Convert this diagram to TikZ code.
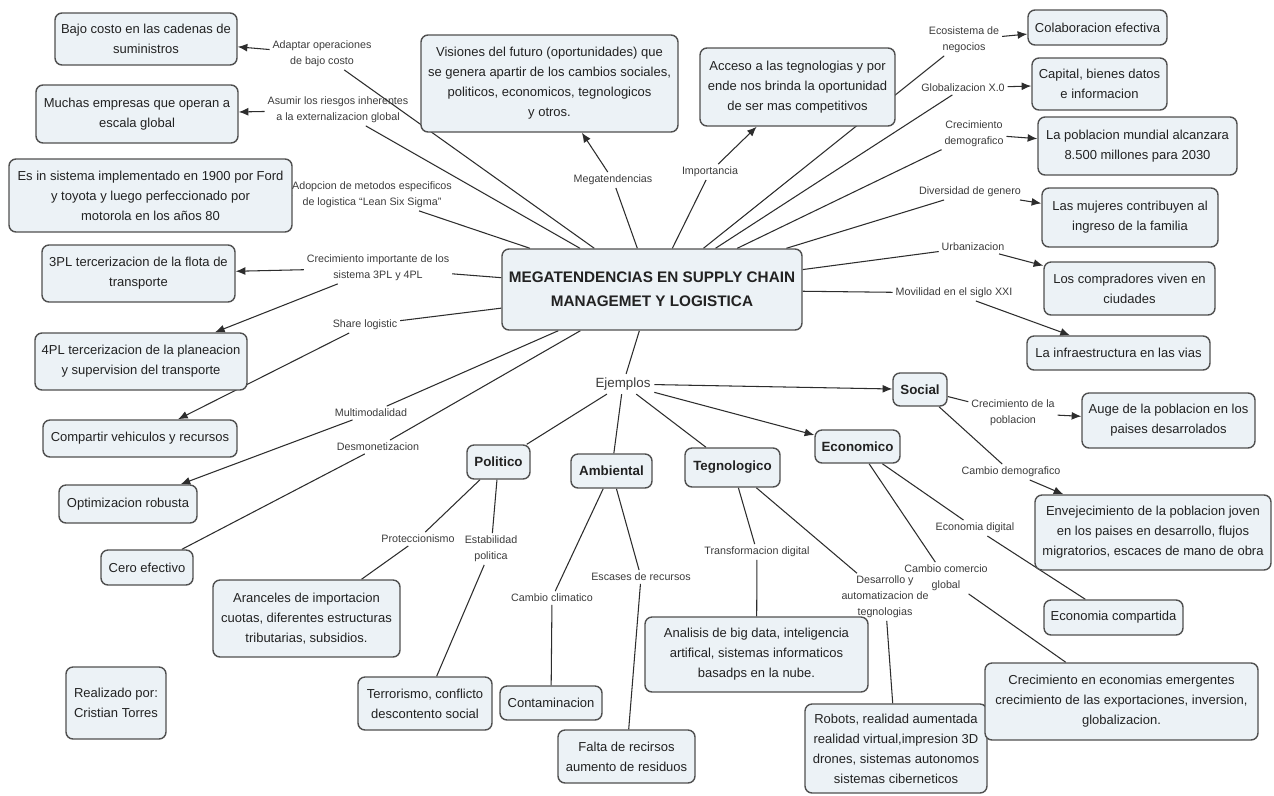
\documentclass[tikz,border=0pt]{standalone}
\usepackage{fontspec}
\setmainfont{Liberation Sans}
\usetikzlibrary{arrows.meta,backgrounds}
\definecolor{boxfill}{RGB}{236,242,246}
\definecolor{boxline}{RGB}{80,80,80}
\definecolor{ink}{RGB}{34,34,34}
\definecolor{linkink}{RGB}{60,60,60}
\definecolor{wire}{RGB}{45,45,45}
\tikzset{
  concept/.style 2 args={draw=boxline, line width=0.8pt, fill=boxfill,
    rounded corners=4pt, align=center, text=ink, inner sep=1pt,
    minimum width=#1*0.02cm, minimum height=#2*0.02cm,
    font=\fontsize{7.4}{11.4}\selectfont},
  titlebox/.style 2 args={concept={#1}{#2},
    font=\bfseries\fontsize{8.7}{13.7}\selectfont},
  groupbox/.style 2 args={concept={#1}{#2},
    font=\bfseries\fontsize{7.6}{9}\selectfont},
  linkphrase/.style={font=\fontsize{6.1}{9}\selectfont, text=linkink,
    align=center, inner sep=1.5pt},
  examples/.style={font=\fontsize{7.6}{9}\selectfont, text=linkink, inner sep=2pt},
  wire/.style={draw=wire, line width=0.6pt},
  arr/.style={wire, -{Latex[length=5.5pt,width=4.5pt]}}
}
\begin{document}
\begin{tikzpicture}[x=0.02cm, y=-0.02cm]
\useasboundingbox (0,0) rectangle (1274,795);

% central concept
\node[titlebox={300}{81}] (C) at (652,289.5) {MEGATENDENCIAS EN SUPPLY CHAIN\\MANAGEMET Y LOGISTICA};

% left branch
\node[concept={182}{52}] (B1) at (146,39) {Bajo costo en las cadenas de\\suministros};
\node[concept={202}{58}] (B2) at (137,114) {Muchas empresas que operan a\\escala global};
\node[concept={283}{73}] (B3) at (150.5,195.5) {Es in sistema implementado en 1900 por Ford\\y toyota y luego perfeccionado por\\motorola en los años 80};
\node[concept={193}{57}] (B4) at (138.5,273.5) {3PL tercerizacion de la flota de\\transporte};
\node[concept={212}{57}] (B5) at (141,361.5) {4PL tercerizacion de la planeacion\\y supervision del transporte};
\node[concept={194}{37}] (B6) at (140,438.5) {Compartir vehiculos y recursos};
\node[concept={138}{38}] (B7) at (128,504) {Optimizacion robusta};
\node[concept={92}{35}] (B8) at (147,567.5) {Cero efectivo};
\node[concept={100}{72}] (B27) at (116,703) {Realizado por:\\Cristian Torres};

\node[linkphrase] (L1) at (322,54) {Adaptar operaciones\\de bajo costo};
\node[linkphrase] (L2) at (338,110) {Asumir los riesgos inherentes\\a la externalizacion global};
\node[linkphrase] (L3) at (372,195) {Adopcion de metodos especificos\\de logistica ``Lean Six Sigma''};
\node[linkphrase] (L4) at (378,268) {Crecimiento importante de los\\sistema 3PL y 4PL};
\node[linkphrase] (L5) at (365,325) {Share logistic};
\node[linkphrase] (L6) at (371,413) {Multimodalidad};
\node[linkphrase] (L7) at (378,447) {Desmonetizacion};

% upper branch
\node[concept={257}{97}] (B9) at (549.5,83.5) {Visiones del futuro (oportunidades) que\\se genera apartir de los cambios sociales,\\politicos, economicos, tegnologicos\\y otros.};
\node[concept={195}{78}] (B10) at (797.5,87) {Acceso a las tegnologias y por\\ende nos brinda la oportunidad\\de ser mas competitivos};
\node[linkphrase] (L8) at (613,180) {Megatendencias};
\node[linkphrase] (L9) at (710,172) {Importancia};

% right branch
\node[concept={139}{35}] (B11) at (1097.5,27.5) {Colaboracion efectiva};
\node[concept={135}{52}] (B12) at (1099.5,84) {Capital, bienes datos\\e informacion};
\node[concept={199}{58}] (B13) at (1137.5,146) {La poblacion mundial alcanzara\\8.500 millones para 2030};
\node[concept={176}{59}] (B14) at (1130,217.5) {Las mujeres contribuyen al\\ingreso de la familia};
\node[concept={171}{53}] (B15) at (1129.5,288.5) {Los compradores viven en\\ciudades};
\node[concept={183}{34}] (B16) at (1118.5,353) {La infraestructura en las vias};

\node[linkphrase] (L10) at (964,40) {Ecosistema de\\negocios};
\node[linkphrase] (L11) at (963,88) {Globalizacion X.0};
\node[linkphrase] (L12) at (974,134) {Crecimiento\\demografico};
\node[linkphrase] (L13) at (970,192) {Diversidad de genero};
\node[linkphrase] (L14) at (973,247) {Urbanizacion};
\node[linkphrase] (L15) at (954,293) {Movilidad en el siglo XXI};

% examples
\node[examples] (Ej) at (623,384) {Ejemplos};
\node[groupbox={63}{34}] (Pol) at (498.5,462) {Politico};
\node[groupbox={81}{34}] (Amb) at (611.5,471) {Ambiental};
\node[groupbox={95}{39}] (Teg) at (732.5,467.5) {Tegnologico};
\node[groupbox={85}{33}] (Eco) at (857.5,446.5) {Economico};
\node[groupbox={54}{33}] (Soc) at (920,389.5) {Social};

\node[concept={187}{77}] (B17) at (306.5,618.5) {Aranceles de importacion\\cuotas, diferentes estructuras\\tributarias, subsidios.};
\node[concept={134}{53}] (B18) at (425,703.5) {Terrorismo, conflicto\\descontento social};
\node[concept={102}{34}] (B19) at (551,703) {Contaminacion};
\node[concept={137}{53}] (B20) at (626.5,756.5) {Falta de recirsos\\aumento de residuos};
\node[concept={223}{75}] (B21) at (756.5,654.5) {Analisis de big data, inteligencia\\artifical, sistemas informaticos\\basadps en la nube.};
\node[concept={182}{89}] (B22) at (896,748.5) {Robots, realidad aumentada\\realidad virtual,impresion 3D\\drones, sistemas autonomos\\sistemas ciberneticos};
\node[concept={139}{35}] (B23) at (1113.5,617.5) {Economia compartida};
\node[concept={273}{77}] (B24) at (1121.5,701.5) {Crecimiento en economias emergentes\\crecimiento de las exportaciones, inversion,\\globalizacion.};
\node[concept={173}{55}] (B25) at (1168.5,420.5) {Auge de la poblacion en los\\paises desarrolados};
\node[concept={236}{75}] (B26) at (1153,532.5) {Envejecimiento de la poblacion joven\\en los paises en desarrollo, flujos\\migratorios, escaces de mano de obra};

\node[linkphrase] (L17) at (418,539) {Proteccionismo};
\node[linkphrase] (L18) at (491,549) {Estabilidad\\politica};
\node[linkphrase] (L19) at (552,598) {Cambio climatico};
\node[linkphrase] (L20) at (641,577) {Escases de recursos};
\node[linkphrase] (L21) at (757,552) {Transformacion digital};
\node[linkphrase] (L22) at (885,597) {Desarrollo y\\automatizacion de\\tegnologias};
\node[linkphrase] (L23) at (975,528) {Economia digital};
\node[linkphrase] (L24) at (946,578) {Cambio comercio\\global};
\node[linkphrase] (L25) at (1013,413) {Crecimiento de la\\poblacion};
\node[linkphrase] (L26) at (1011,472) {Cambio demografico};

\begin{pgfonlayer}{background}
  \fill[white] (0,0) rectangle (1274,795);
  % left branch
  \draw[wire] (C) -- (L1);  \draw[arr] (L1) -- (B1);
  \draw[wire] (C) -- (L2);  \draw[arr] (L2) -- (B2);
  \draw[wire] (C) -- (L3);  \draw[arr] (L3) -- (B3);
  \draw[wire] (C) -- (L4);  \draw[arr] (L4) -- (B4);  \draw[arr] (L4) -- (B5);
  \draw[wire] (C) -- (L5);  \draw[arr] (L5) -- (B6);
  \draw[wire] (C) -- (L6);  \draw[arr] (L6) -- (B7);
  \draw[wire] (C) -- (L7);  \draw[wire] (L7) -- (B8);
  % upper branch
  \draw[wire] (C) -- (L8);  \draw[arr] (L8) -- (B9);
  \draw[wire] (C) -- (L9);  \draw[arr] (L9) -- (B10);
  % right branch
  \draw[wire] (C) -- (L10); \draw[arr] (L10) -- (B11);
  \draw[wire] (C) -- (L11); \draw[arr] (L11) -- (B12);
  \draw[wire] (C) -- (L12); \draw[arr] (L12) -- (B13);
  \draw[wire] (C) -- (L13); \draw[arr] (L13) -- (B14);
  \draw[wire] (C) -- (L14); \draw[arr] (L14) -- (B15);
  \draw[wire] (C) -- (L15); \draw[arr] (L15) -- (B16);
  % examples
  \draw[wire] (C) -- (Ej);
  \draw[arr] (Ej) -- (Soc);
  \draw[arr] (Ej) -- (Eco);
  \draw[wire] (Ej) -- (Pol);
  \draw[wire] (Ej) -- (Amb);
  \draw[wire] (Ej) -- (Teg);
  \draw[wire] (Pol) -- (L17); \draw[wire] (L17) -- (B17);
  \draw[wire] (Pol) -- (L18); \draw[wire] (L18) -- (B18);
  \draw[wire] (Amb) -- (L19); \draw[wire] (L19) -- (B19);
  \draw[wire] (Amb) -- (L20); \draw[wire] (L20) -- (B20);
  \draw[wire] (Teg) -- (L21); \draw[wire] (L21) -- (B21);
  \draw[wire] (Teg) -- (L22); \draw[wire] (L22) -- (B22);
  \draw[wire] (Eco) -- (L23); \draw[wire] (L23) -- (B23);
  \draw[wire] (Eco) -- (L24); \draw[wire] (L24) -- (B24);
  \draw[wire] (Soc) -- (L25); \draw[arr] (L25) -- (B25);
  \draw[wire] (Soc) -- (L26); \draw[arr] (L26) -- (B26);
\end{pgfonlayer}
\end{tikzpicture}
\end{document}
